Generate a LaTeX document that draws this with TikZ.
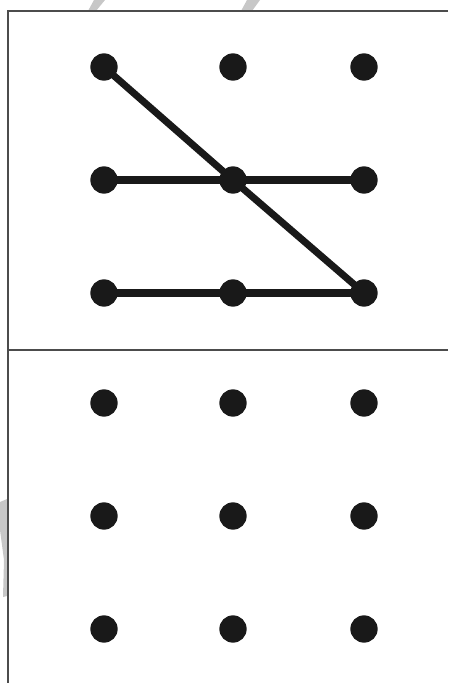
\documentclass[tikz,border=0pt]{standalone}
\begin{document}
\begin{tikzpicture}[x=0.03cm,y=-0.03cm,
  dot/.style={circle, fill=black!90, inner sep=0pt, minimum size=0.82cm},
  stroke/.style={line width=6pt, black!90},
  frame/.style={line width=1.3pt, black!70}]
\useasboundingbox (0,0) rectangle (448,683);
% faint marks of the page behind
\fill[black!22] (88,11) -- (96,11) -- (105,0) -- (94,0) -- cycle;
\fill[black!22] (241,11) -- (252,11) -- (260,0) -- (247,0) -- cycle;
\fill[black!22] (0,502) -- (7,499) -- (7,596) -- (3,597) -- (4,560) -- (0,530) -- cycle;
\draw[frame] (448,11) -- (8,11) -- (8,683);\draw[frame] (8,350) -- (448,350);
% upper grid
\foreach \c/\x in {1/104,2/233,3/364} {\foreach \r/\y in {1/67,2/180,3/293} {\node[dot] (u\r\c) at (\x,\y) {};}}
% lower grid
\foreach \c/\x in {1/104,2/233,3/364} {\foreach \r/\y in {1/403,2/516,3/629} {\node[dot] (l\r\c) at (\x,\y) {};}}
\draw[stroke] (u11.center) -- (u22.center) -- (u33.center);
\draw[stroke] (u21.center) -- (u22.center) -- (u23.center);
\draw[stroke] (u31.center) -- (u32.center) -- (u33.center);
\end{tikzpicture}
\end{document}
